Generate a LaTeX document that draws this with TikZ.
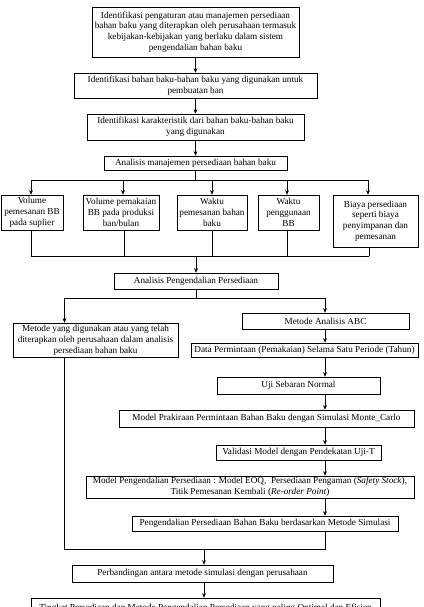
\documentclass[tikz,border=0pt]{standalone}
\usepackage{fontspec}
\setmainfont{Liberation Serif}
\usetikzlibrary{arrows.meta}
\begin{document}
\begin{tikzpicture}[x=1pt,y=-1pt,
 box/.style={draw, line width=0.6pt, inner sep=1pt, align=center, font=\fontsize{9.2}{10.8}\selectfont},
 arr/.style={-{Stealth[length=4.5pt,width=3.8pt]}, line width=0.6pt},
 ln/.style={line width=0.6pt}]
\useasboundingbox (0,0) rectangle (423,607);
\node[box, minimum width=207pt, minimum height=50pt] (n1) at (195.5,32) {Identifikasi pengaturan atau manajemen persediaan\\bahan baku yang diterapkan oleh perusahaan termasuk\\kebijakan-kebijakan yang berlaku dalam sistem\\pengendalian bahan baku};
\node[box, minimum width=243pt, minimum height=25pt] (n2) at (195.5,85.5) {Identifikasi bahan baku-bahan baku yang digunakan untuk\\pembuatan ban};
\node[box, minimum width=217pt, minimum height=26pt] (n3) at (195.5,127) {Identifikasi karakteristik dari bahan baku-bahan baku\\yang digunakan};
\node[box, minimum width=183pt, minimum height=14pt] (n4) at (195.5,163) {Analisis manajemen persediaan bahan baku};
\node[box, minimum width=62pt, minimum height=35pt] (b1) at (32,212.5) {Volume\\pemesanan BB\\pada suplier};
\node[box, minimum width=76pt, minimum height=35pt] (b2) at (121,212.5) {Volume pemakaian\\BB pada produksi\\ban/bulan};
\node[box, minimum width=70pt, minimum height=35pt] (b3) at (212,212.5) {Waktu\\pemesanan bahan\\baku};
\node[box, minimum width=61pt, minimum height=35pt] (b4) at (288.5,212.5) {Waktu\\penggunaan\\BB};
\node[box, minimum width=85pt, minimum height=52pt] (b5) at (375.5,221) {Biaya persediaan\\seperti biaya\\penyimpanan dan\\pemesanan};
\node[box, minimum width=164pt, minimum height=16pt] (p) at (196,281) {Analisis Pengendalian Persediaan};
\node[box, minimum width=165pt, minimum height=34pt] (lf) at (95.5,340) {Metode yang digunakan atau yang telah\\diterapkan oleh perusahaan dalam analisis\\persediaan bahan baku};
\node[box, minimum width=167pt, minimum height=16pt] (abc) at (325.5,321) {Metode Analisis ABC};
\node[box, minimum width=227pt, minimum height=14pt] (data) at (304.5,350) {Data Permintaan (Pemakaian) Selama Satu Periode (Tahun)};
\node[box, minimum width=163pt, minimum height=17pt] (uji) at (298.5,385.5) {Uji Sebaran Normal};
\node[box, minimum width=295pt, minimum height=17pt] (mp) at (266.5,418.5) {Model Prakiraan Permintaan Bahan Baku dengan Simulasi Monte\_Carlo};
\node[box, minimum width=165pt, minimum height=15pt] (val) at (298.5,452.5) {Validasi Model dengan Pendekatan Uji-T};
\node[box, minimum width=328pt, minimum height=22pt] (mpp) at (250,487) {Model Pengendalian Persediaan : Model EOQ,~ Persediaan Pengaman (\textit{Safety Stock}),\\Titik Pemesanan Kembali (\textit{Re-order Point})};
\node[box, minimum width=266pt, minimum height=15pt] (peng) at (265,523.5) {Pengendalian Persediaan Bahan Baku berdasarkan Metode Simulasi};
\node[box, minimum width=261pt, minimum height=17pt] (perb) at (202.5,573.5) {Perbandingan antara metode simulasi dengan perusahaan};
\node[box, minimum width=349pt, minimum height=20pt] (fin) at (205.5,608) {Tingkat Persediaan dan Metode Pengendalian Persediaan yang paling Optimal dan Efisien};
% top chain
\draw[arr] (n1.south) -- (n2.north);
\draw[arr] (n2.south) -- (n3.north);
\draw[arr] (n3.south) -- (n4.north);
% fan out
\coordinate (t1) at (31,180);
\coordinate (t2) at (123,180);
\coordinate (t3) at (212,180);
\coordinate (t4) at (287,180);
\coordinate (t5) at (368,180);
\draw[ln] (n4.south) -- (n4.south |- t1);
\draw[ln] (t1) -- (t5);
\draw[arr] (t1) -- (b1.north -| t1);
\draw[arr] (t2) -- (b2.north -| t2);
\draw[arr] (t3) -- (b3.north -| t3);
\draw[arr] (t4) -- (b4.north -| t4);
\draw[arr] (t5) -- (b5.north -| t5);
% fan in
\coordinate (u1) at (31,256);
\coordinate (u2) at (124,256);
\coordinate (u3) at (212,256);
\coordinate (u4) at (287,256);
\coordinate (u5) at (369,256);
\draw[ln] (b1.south -| u1) -- (u1);
\draw[ln] (b2.south -| u2) -- (u2);
\draw[ln] (b3.south -| u3) -- (u3);
\draw[ln] (b4.south -| u4) -- (u4);
\draw[ln] (b5.south -| u5) -- (u5);
\draw[ln] (u1) -- (u5);
\draw[arr] (p.north |- u1) -- (p.north);
% split
\coordinate (vl) at (64.5,298);
\coordinate (vr) at (325,298);
\draw[ln] (p.south) -- (p.south |- vl);
\draw[ln] (vl) -- (vr);
\draw[arr] (vl) -- (lf.north -| vl);
\draw[arr] (vr) -- (abc.north -| vr);
% right column
\draw[arr] (abc.south -| vr) -- (data.north -| vr);
\draw[arr] (data.south -| vr) -- (uji.north -| vr);
\draw[arr] (uji.south -| vr) -- (mp.north -| vr);
\draw[arr] (mp.south -| vr) -- (val.north -| vr);
\draw[arr] (val.south -| vr) -- (mpp.north -| vr);
\draw[arr] (mpp.south -| vr) -- (peng.north -| vr);
% merge
\coordinate (w1) at (64.5,549);
\coordinate (w2) at (325,549);
\coordinate (w3) at (204,549);
\draw[ln] (lf.south -| w1) -- (w1) -- (w2) -- (peng.south -| w2);
\draw[arr] (w3) -- (perb.north -| w3);
\draw[arr] (perb.south -| w3) -- (fin.north -| w3);
\end{tikzpicture}
\end{document}
